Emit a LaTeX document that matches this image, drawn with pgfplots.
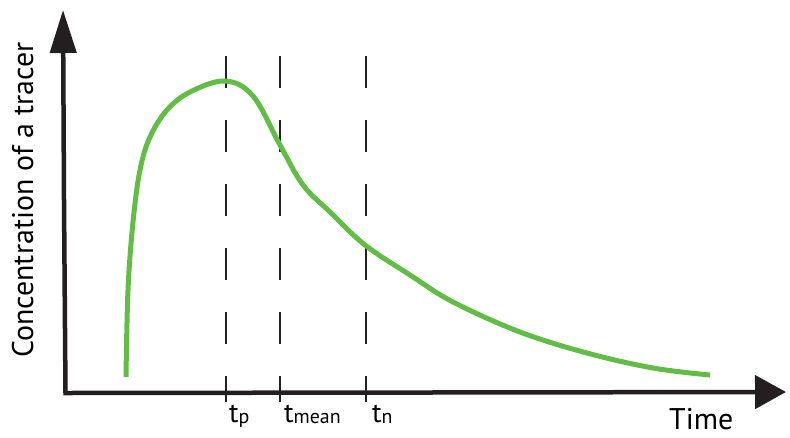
\documentclass[border=0pt]{standalone}
\usepackage{pgfplots}
\pgfplotsset{compat=1.18}
\usetikzlibrary{arrows.meta}
\usepackage{fontspec}
\setmainfont{PT Sans}
\definecolor{tracer}{HTML}{62BD46}
\definecolor{ink}{HTML}{231F20}
\begin{document}
\begin{tikzpicture}
\begin{axis}[
  width=790bp, height=437bp, scale only axis,
  xmin=0, xmax=790, ymin=0, ymax=437, y dir=reverse,
  hide axis, clip=false,
]
% axes
\addplot[ink, line width=4.5bp, line join=miter, {Triangle[length=43bp,width=26bp]}-{Triangle[length=31bp,width=33bp]}]
  coordinates {(63,10) (64,200) (65.5,393) (786,392)};
% dashed markers
\addplot[ink, line width=1.8bp, dash pattern=on 32bp off 32bp] coordinates {(226,56) (226,402)};
\addplot[ink, line width=1.8bp, dash pattern=on 32bp off 32bp] coordinates {(280,56) (280,402)};
\addplot[ink, line width=1.8bp, dash pattern=on 32bp off 32bp] coordinates {(366,56) (366,402)};
% curve
\addplot[tracer, line width=5bp, smooth, tension=0.6] coordinates {
(126,377) (128,290) (133,222) (140,170) (150,137) (167,110) (190,92) (225,81)
(253,96) (280,145) (303,185) (330,212) (365,245) (410,275) (453,302) (520,332)
(587,353) (653,368) (710,375)};
% labels
\node[anchor=base west, inner sep=0pt, font=\fontsize{28}{28}\selectfont] at (axis cs:229,422) {t\raisebox{-1.5bp}{\fontsize{20}{20}\selectfont p}};
\node[anchor=base west, inner sep=0pt, font=\fontsize{28}{28}\selectfont] at (axis cs:284,422) {t\raisebox{-1.5bp}{\fontsize{20}{20}\selectfont mean}};
\node[anchor=base west, inner sep=0pt, font=\fontsize{28}{28}\selectfont] at (axis cs:372,422) {t\raisebox{-1.5bp}{\fontsize{20}{20}\selectfont n}};
\node[anchor=base west, inner sep=0pt, font=\fontsize{30}{30}\selectfont] at (axis cs:669,429) {Time};
\node[anchor=base, rotate=90, inner sep=0pt, font=\fontsize{30}{30}\selectfont] at (axis cs:33,200) {Concentration of a tracer};
\end{axis}
\pgfresetboundingbox
\path (current axis.south west) rectangle (current axis.north east);
\end{tikzpicture}
\end{document}
